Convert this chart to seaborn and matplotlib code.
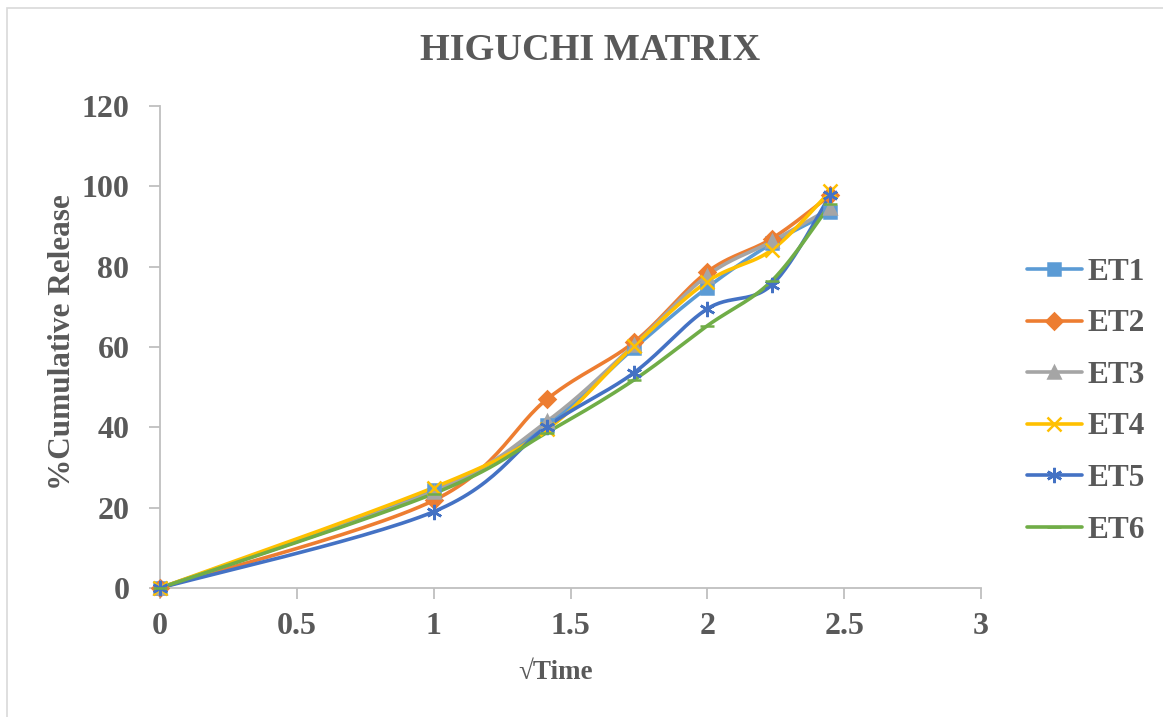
import numpy as np
import pandas as pd
import matplotlib
matplotlib.use("Agg")
import matplotlib.pyplot as plt
from matplotlib.lines import Line2D
from matplotlib.patches import Rectangle
import seaborn as sns

# ---- data ----
sqrt_time = [0, 1, 1.414, 1.732, 2, 2.236, 2.449]
series_names = ["ET1", "ET2", "ET3", "ET4", "ET5", "ET6"]
et1 = [0, 24.3, 40.6, 59.7, 74.8, 85.8, 93.5]
et2 = [0, 21.8, 47.0, 61.2, 78.7, 87.0, 97.8]
et3 = [0, 24.0, 41.5, 60.5, 77.8, 86.3, 94.5]
et4 = [0, 25.0, 39.5, 60.3, 76.3, 84.2, 98.8]
et5 = [0, 19.0, 40.2, 53.6, 69.5, 75.5, 97.8]
et6 = [0, 23.5, 38.7, 51.8, 65.3, 76.5, 95.5]
series_values = [et1, et2, et3, et4, et5, et6]
x_ticks = [0, 0.5, 1, 1.5, 2, 2.5, 3]
y_ticks = [0, 20, 40, 60, 80, 100, 120]

# ---- styles ----
colors = ["#5B9BD5", "#ED7D31", "#A5A5A5", "#FFC000", "#4472C4", "#70AD47"]
markers = ["s", "D", "^", "x", (6, 2, 0), "_"]
msizes = [9, 8, 9, 10, 11, 10]
text_color = "#595959"
spine_color = "#BFBFBF"


def smooth(x, y, n=30):
    """Excel-like smoothed curve (Catmull-Rom cubic Bezier)."""
    P = np.column_stack([x, y]).astype(float)
    pts = [P[0]]
    for i in range(len(P) - 1):
        p0 = P[i - 1] if i > 0 else P[i]
        p1 = P[i]
        p2 = P[i + 1]
        p3 = P[i + 2] if i + 2 < len(P) else P[i + 1]
        c1 = p1 + (p2 - p0) / 6.0
        c2 = p2 - (p3 - p1) / 6.0
        t = np.linspace(0, 1, n)[1:, None]
        seg = ((1 - t) ** 3) * p1 + 3 * ((1 - t) ** 2) * t * c1 + 3 * (1 - t) * t ** 2 * c2 + t ** 3 * p2
        pts.extend(seg)
    pts = np.array(pts)
    return pts[:, 0], pts[:, 1]


sns.set_theme(style="white")
plt.rcParams["font.family"] = ["Liberation Serif", "DejaVu Serif"]
plt.rcParams["font.weight"] = "bold"

fig = plt.figure(figsize=(11.63, 7.17), dpi=100)
ax = fig.add_axes([160 / 1163, 1 - 588 / 717, (981 - 160) / 1163, (588 - 106) / 717])

handles = []
for name, vals, c, m, ms in zip(series_names, series_values, colors, markers, msizes):
    sx, sy = smooth(sqrt_time, vals)
    df = pd.DataFrame({"x": sx, "y": sy})
    sns.lineplot(data=df, x="x", y="y", sort=False, estimator=None, color=c,
                 linewidth=2.6, ax=ax, solid_capstyle="round")
    ax.plot(sqrt_time, vals, linestyle="none", marker=m, markersize=ms,
            color=c, markeredgecolor=c, markeredgewidth=1.8, zorder=3)
    handles.append(Line2D([0], [0], color=c, lw=2.6, marker=m, markersize=ms,
                          markeredgecolor=c, markeredgewidth=1.8,
                          solid_capstyle="round"))

ax.set_xlim(0, 3)
ax.set_ylim(0, 120)
ax.set_xticks(x_ticks)
ax.set_xticklabels([f"{v:g}" for v in x_ticks])
ax.set_yticks(y_ticks)
ax.set_yticklabels([str(v) for v in y_ticks])
ax.margins(0)
for line in ax.lines:
    line.set_clip_on(False)

for s in ["top", "right"]:
    ax.spines[s].set_visible(False)
for s in ["left", "bottom"]:
    ax.spines[s].set_color(spine_color)
    ax.spines[s].set_linewidth(1.3)
ax.tick_params(axis="both", which="major", direction="out", length=8, width=1.3,
               color=spine_color, labelcolor=text_color, labelsize=23,
               left=True, bottom=True)
ax.tick_params(axis="y", pad=14)
ax.tick_params(axis="x", pad=9)
for lab in ax.get_xticklabels() + ax.get_yticklabels():
    lab.set_fontweight("bold")

ax.set_xlabel("\u221aTime", fontsize=19.5, fontweight="bold", color=text_color)
ax.xaxis.set_label_coords(0.482, -0.15)
ax.set_ylabel("%Cumulative Release", fontsize=22.5, fontweight="bold", color=text_color)
ax.yaxis.set_label_coords(-0.101, 0.51)
fig.text(0.507, 1 - 51 / 717, "HIGUCHI MATRIX", ha="center", va="center",
         fontsize=27.5, fontweight="bold", color=text_color)

leg = fig.legend(handles, series_names, loc="upper left",
                 bbox_to_anchor=(1027 / 1163, 1 - 258 / 717), frameon=False,
                 fontsize=22.5, handlelength=1.75, handletextpad=0.2,
                 labelspacing=0.72, borderpad=0, borderaxespad=0)
for t in leg.get_texts():
    t.set_color(text_color)
    t.set_fontweight("bold")

# outer chart border
fig.patches.append(Rectangle((6.5 / 1163, -0.05), 1.2, 1 - 7.5 / 717 + 0.05,
                             transform=fig.transFigure, fill=False,
                             edgecolor="#D9D9D9", linewidth=1.2))

fig.savefig("out.png", dpi=100, facecolor="white")
